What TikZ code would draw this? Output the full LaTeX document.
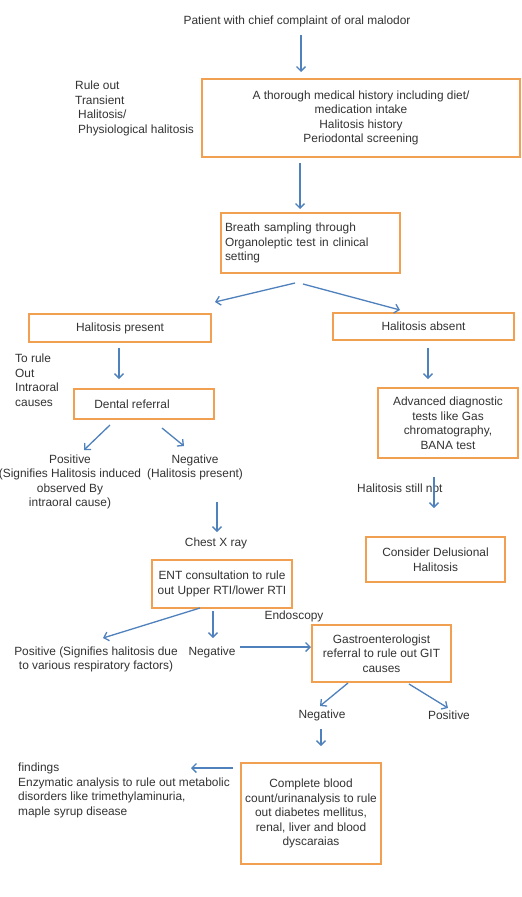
\documentclass[tikz,border=0pt]{standalone}
\usepackage{fontspec}
\setmainfont{Liberation Sans}
\usetikzlibrary{arrows.meta}
\definecolor{boxC}{HTML}{F0A050}
\definecolor{arrC}{HTML}{4F81BD}
\definecolor{txtC}{HTML}{333333}
\begin{document}
\begin{tikzpicture}[x=1pt,y=-1pt,
  every node/.style={text=txtC,font=\fontsize{11.9}{14.5}\selectfont,inner sep=1pt},
  box/.style={draw=boxC,line width=1.4pt,align=center,inner sep=4pt},
  lbl/.style={align=center},
  arr/.style={draw=arrC,line width=1.3pt,-{Straight Barb[length=4.5pt,width=9pt]}}]
\useasboundingbox[fill=white] (0,0) rectangle (522,897);

% boxes
\node[box,minimum width=318,minimum height=78] (b1) at (361,118)
  {A thorough medical history including diet/\\medication intake\\Halitosis history\\Periodontal screening};
\node[box,minimum height=60,text width=171,align=left] (b2) at (310.5,243)
  {Breath sampling through\\Organoleptic test in clinical\\setting};
\node[box,minimum width=182,minimum height=28] (hp) at (120,328) {Halitosis present};
\node[box,minimum width=181,minimum height=27] (ha) at (423.5,326.5) {Halitosis absent};
\node[box,minimum width=140,minimum height=30] (dr) at (144,404) {};
\node (drt) at (132,404) {Dental referral};
\node[box,minimum width=140,minimum height=70] (adv) at (448,423)
  {Advanced diagnostic\\tests like Gas\\chromatography,\\BANA test};
\node[box,minimum width=139,minimum height=45] (del) at (435.5,559.5)
  {Consider Delusional\\Halitosis};
\node[box,minimum width=140,minimum height=48] (ent) at (222,584)
  {ENT consultation to rule\\out Upper RTI/lower RTI};
\node[box,minimum width=139,minimum height=57] (gas) at (381.5,653.5)
  {Gastroenterologist\\referral to rule out GIT\\causes};
\node[box,minimum width=140,minimum height=101] (cbc) at (311,813.5)
  {Complete blood\\count/urinanalysis to rule\\out diabetes mellitus,\\renal, liver and blood\\dyscaraias};

% text labels
\node (title) at (297,21) {Patient with chief complaint of oral malodor};
\node[anchor=west,align=left] (rule) at (74,108.5)
  {Rule out\\Transient\\\hspace{3pt}Halitosis/\\\hspace{3pt}Physiological halitosis};
\node[anchor=west,align=left] (torule) at (14,380) {To rule\\Out\\Intraoral\\causes};
\node[lbl] (pos1) at (70,482) {Positive\\(Signifies Halitosis induced\\observed By\\intraoral cause)};
\node[lbl] (neg1) at (195,467.5) {Negative\\(Halitosis present)};
\node (chest) at (216,543) {Chest X ray};
\node[anchor=west] (still) at (356,488) {Halitosis still not};
\node (endo) at (294,616) {Endoscopy};
\node[lbl] (pos2) at (96,659.5) {Positive (Signifies halitosis due\\to various respiratory factors)};
\node (neg2) at (212,652) {Negative};
\node (neg3) at (322,715) {Negative};
\node (pos3) at (449,715) {Positive};
\node[anchor=west,align=left] (find) at (17,790.5)
  {findings\\Enzymatic analysis to rule out metabolic\\disorders like trimethylaminuria,\\maple syrup disease};

% arrow end points
\coordinate (a1s) at (301,35);   \coordinate (a1e) at (301,72);
\coordinate (a2s) at (300,163);  \coordinate (a2e) at (300,209);
\coordinate (a3s) at (295,283);  \coordinate (a3e) at (215,302);
\coordinate (a4s) at (303,284);  \coordinate (a4e) at (400,310);
\coordinate (a5s) at (119,348);  \coordinate (a5e) at (119,379);
\coordinate (a6s) at (428,348);  \coordinate (a6e) at (428,379);
\coordinate (a7s) at (110,425);  \coordinate (a7e) at (84,450);
\coordinate (a8s) at (162,428);  \coordinate (a8e) at (184,446);
\coordinate (a9s) at (217,502);  \coordinate (a9e) at (217,532);
\coordinate (a10s) at (434,477); \coordinate (a10e) at (434,508);
\coordinate (a11s) at (200,608); \coordinate (a11e) at (103,638);
\coordinate (a12s) at (213,611); \coordinate (a12e) at (213,638);
\coordinate (a13s) at (240,647); \coordinate (a13e) at (311,647);
\coordinate (a14s) at (348,683); \coordinate (a14e) at (320,706);
\coordinate (a15s) at (409,684); \coordinate (a15e) at (448,708);
\coordinate (a16s) at (321,729); \coordinate (a16e) at (321,746);
\coordinate (a17s) at (233,768); \coordinate (a17e) at (191,768);

\foreach \i in {1,...,17} \draw[arr] (a\i s) -- (a\i e);
\end{tikzpicture}
\end{document}
